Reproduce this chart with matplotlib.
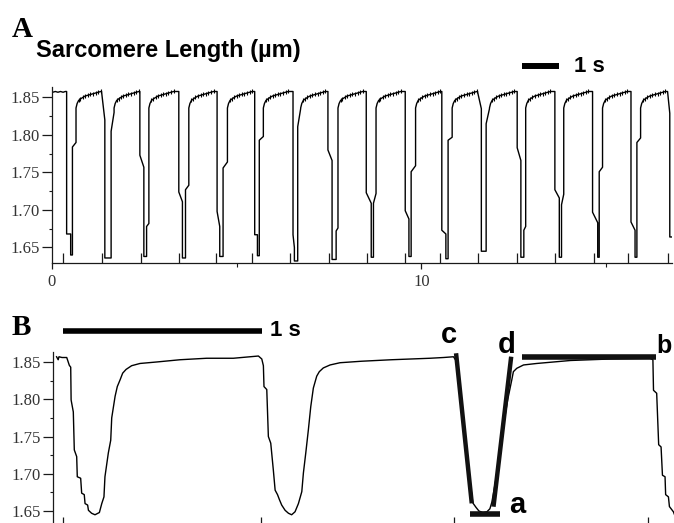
import matplotlib
matplotlib.use("Agg")
import matplotlib.pyplot as plt

# ---------------- panel A: sarcomere length over ~17 s ----------------
# initial plateau before the first twitch
A_START_T = [0.02, 0.09, 0.16, 0.23, 0.30, 0.36, 0.396]
A_START_V = [1.857, 1.858, 1.857, 1.858, 1.857, 1.858, 1.858]

# per twitch: drop time, kink on the falling edge, bottom, rise time, kink on the rising edge
A_DROP_T = [0.396, 1.343, 2.378, 3.432, 4.468, 5.486, 6.523, 7.468, 8.505, 9.56,
            10.55, 11.52, 12.59, 13.61, 14.63, 15.67]
A_FALL_V1 = [1.668, 1.857, 1.773, 1.724, 1.698, 1.667, 1.667, 1.780, 1.723, 1.699,
             1.673, 1.857, 1.783, 1.727, 1.697, 1.684]
A_FALL_T2 = [0.505, 1.430, 2.486, 3.530, 4.540, 5.560, 6.560, 7.580, 8.640, 9.66,
             10.66, 11.62, 12.69, 13.73, 14.77, 15.78]
A_FALL_V2 = [1.668, 1.820, 1.757, 1.711, 1.678, 1.667, 1.650, 1.766, 1.709, 1.688,
             1.668, 1.835, 1.766, 1.716, 1.683, 1.673]
A_BOTTOM = [1.640, 1.636, 1.638, 1.636, 1.638, 1.639, 1.632, 1.634, 1.637, 1.638,
            1.635, 1.645, 1.637, 1.637, 1.637, 1.637]
A_RISE_T = [0.553, 1.600, 2.560, 3.613, 4.630, 5.610, 6.650, 7.690, 8.700, 9.72,
            10.72, 11.75, 12.77, 13.79, 14.81, 15.83]
A_RISE_V1 = [1.784, 1.805, 1.678, 1.727, 1.756, 1.793, 1.811, 1.672, 1.709, 1.751,
             1.793, 1.815, 1.673, 1.707, 1.751, 1.790]
A_RISE_T2 = [0.650, 1.680, 2.622, 3.703, 4.748, 5.720, 6.730, 7.740, 8.770, 9.84,
             10.83, 11.84, 12.82, 13.85, 14.90, 15.93]
A_RISE_V2 = [1.790, 1.830, 1.682, 1.733, 1.764, 1.798, 1.835, 1.676, 1.722, 1.759,
             1.797, 1.835, 1.678, 1.721, 1.757, 1.796]

# slow relaxation plateau after each rise (time after the rising kink, value)
PLAT_DT = [0.00, 0.03, 0.07, 0.12, 0.18, 0.25, 0.32, 0.39, 0.46, 0.53, 0.60, 0.67]
PLAT_V = [1.836, 1.842, 1.846, 1.848, 1.850, 1.852, 1.853, 1.854, 1.855, 1.856, 1.857, 1.858]

# last, partial twitch at the right edge
A_END_T = [16.66, 16.72, 16.72, 16.80]
A_END_V = [1.858, 1.829, 1.664, 1.664]

A_STIM_T = [0.305, 1.36, 2.40, 3.44, 4.45, 5.41, 6.45, 7.49, 8.52, 9.56, 10.51,
            11.54, 12.58, 13.61, 14.66, 15.60, 16.66]

# ---------------- panel B: three twitches, ~3 s ----------------
B_T = [0.018, 0.026, 0.030, 0.045, 0.069, 0.082, 0.089, 0.091, 0.102, 0.107, 0.119,
       0.122, 0.139, 0.144, 0.157, 0.161, 0.174, 0.178, 0.194, 0.211, 0.233, 0.245,
       0.256, 0.261, 0.278, 0.290, 0.295, 0.312, 0.323, 0.337, 0.350, 0.367, 0.395,
       0.437, 0.521, 0.638, 0.772, 0.906, 1.032, 1.049, 1.057, 1.060, 1.074, 1.082,
       1.094, 1.107, 1.116, 1.128, 1.138, 1.149, 1.166, 1.183, 1.199, 1.216, 1.233,
       1.250, 1.258, 1.270, 1.283, 1.295, 1.308, 1.325, 1.338, 1.358, 1.392, 1.442,
       1.55, 1.70, 1.894, 1.962, 2.012, 2.03, 2.05, 2.07, 2.09, 2.104, 2.109, 2.125,
       2.14, 2.16, 2.18, 2.195, 2.205, 2.23, 2.26, 2.285, 2.305, 2.313, 2.33, 2.364,
       2.43, 2.60, 2.80, 3.00, 3.014, 3.017, 3.033, 3.043, 3.055, 3.062, 3.075,
       3.078, 3.092, 3.097, 3.117, 3.13]
B_V = [1.857, 1.853, 1.857, 1.856, 1.856, 1.8455, 1.843, 1.799, 1.783, 1.732, 1.723,
       1.696, 1.694, 1.674, 1.672, 1.660, 1.658, 1.651, 1.647, 1.645, 1.648, 1.660,
       1.669, 1.696, 1.728, 1.745, 1.775, 1.804, 1.817, 1.826, 1.835, 1.840, 1.845,
       1.848, 1.850, 1.853, 1.855, 1.855, 1.858, 1.854, 1.845, 1.817, 1.813, 1.750,
       1.741, 1.705, 1.678, 1.672, 1.665, 1.658, 1.651, 1.647, 1.645, 1.649, 1.660,
       1.676, 1.701, 1.728, 1.759, 1.790, 1.815, 1.831, 1.837, 1.842, 1.846, 1.849,
       1.851, 1.853, 1.855, 1.856, 1.857, 1.850, 1.800, 1.750, 1.700, 1.672, 1.661,
       1.655, 1.650, 1.648, 1.649, 1.653, 1.662, 1.700, 1.760, 1.800, 1.826, 1.837,
       1.8415, 1.846, 1.848, 1.852, 1.854, 1.855, 1.853, 1.812, 1.808, 1.739, 1.736,
       1.698, 1.696, 1.672, 1.669, 1.656, 1.649, 1.640]
B_STIM_T = [0.052, 1.044, 2.015, 2.991]

# measurement markers a-d on the third twitch
C_LINE_T = [2.025, 2.104]
C_LINE_V = [1.8617, 1.6603]
D_LINE_T = [2.302, 2.213]
D_LINE_V = [1.8571, 1.6558]
A_LINE_T = [2.095, 2.246]
A_LINE_V = [1.6456, 1.6456]
B_LINE_T = [2.355, 3.030]
B_LINE_V = [1.8563, 1.8563]

YTICKS = [1.65, 1.70, 1.75, 1.80, 1.85]
YMINOR = [1.675, 1.725, 1.775, 1.825]

INK = "#1a1a1a"
SERIF = "Liberation Serif"
SANS = "Liberation Sans"


def build_trace_a():
    ts, vs = list(A_START_T), list(A_START_V)
    pts, pvs = [], []
    n = len(A_DROP_T)
    for i in range(n):
        top = vs[-1]
        ts += [A_DROP_T[i], A_DROP_T[i], A_FALL_T2[i], A_FALL_T2[i],
               A_RISE_T[i], A_RISE_T[i], A_RISE_T2[i]]
        vs += [top, A_FALL_V1[i], A_FALL_V2[i], A_BOTTOM[i],
               A_BOTTOM[i], A_RISE_V1[i], A_RISE_V2[i]]
        nxt = A_DROP_T[i + 1] if i + 1 < n else A_END_T[0]
        for dt, v in zip(PLAT_DT, PLAT_V):
            if A_RISE_T2[i] + dt < nxt - 0.01:
                ts.append(A_RISE_T2[i] + dt); vs.append(v)
                if dt > 0.05:
                    pts.append(A_RISE_T2[i] + dt); pvs.append(v)
    ts += A_END_T; vs += A_END_V
    return ts, vs, pts, pvs


def style_axis(ax, ymin, ymax):
    for s in ("top", "right"):
        ax.spines[s].set_visible(False)
    for s in ("left", "bottom"):
        ax.spines[s].set_color(INK); ax.spines[s].set_linewidth(0.9)
    ax.set_ylim(ymin, ymax)
    ax.set_yticks(YTICKS)
    ax.set_yticks(YMINOR, minor=True)
    ax.set_yticklabels([f"{v:.2f}" for v in YTICKS], fontfamily=SERIF, fontsize=12, color="#333")
    ax.tick_params(axis="y", which="major", length=7.5, width=0.9, pad=1, color=INK)
    ax.tick_params(axis="y", which="minor", length=2.5, width=0.8, color=INK)
    ax.patch.set_visible(False)


fig = plt.figure(figsize=(6.74, 5.23), dpi=100)

# ---- panel A ----
axA = fig.add_axes([0.07715, 0.49656, 0.91988, 0.33767])
ta, va, pt, pv = build_trace_a()
axA.plot(ta, va, color="black", lw=1.0)
axA.plot(pt, pv, ls="none", marker="|", ms=3, mew=0.8, color="black")
style_axis(axA, 1.6289, 1.8644)
axA.set_xlim(0, 16.78)
axA.set_xticks([0, 10])
axA.set_xticks([5, 15], minor=True)
axA.set_xticklabels(["0", "10"], fontfamily=SERIF, fontsize=12, color="#333")
axA.tick_params(axis="x", which="major", length=4, width=0.9, pad=4, color=INK)
axA.tick_params(axis="x", which="minor", length=3, width=0.8, color=INK)
axA.vlines(A_STIM_T, 1.6289, 1.6289 + 0.0133, color=INK, lw=0.9)
# 1 s scale bar
axA.plot([12.73, 13.73], [1.892, 1.892], color="black", lw=4.3, solid_capstyle="butt", clip_on=False)
axA.text(14.14, 1.892, "1 s", fontfamily=SANS, fontweight="bold", fontsize=16,
         va="center", ha="left")

fig.text(12 / 674, 1 - 37 / 523, "A", fontfamily=SERIF, fontweight="bold", fontsize=21)
fig.text(36 / 674, 1 - 57 / 523, "Sarcomere Length (µm)", fontfamily=SANS,
         fontweight="bold", fontsize=17)

# ---- panel B ----
axB = fig.add_axes([0.07864, -0.00191, 0.92136, 0.32945])
axB.plot(B_T, B_V, color="black", lw=1.0)
style_axis(axB, 1.6326, 1.8638)
axB.set_xlim(0, 3.12)
axB.set_xticks([])
axB.vlines(B_STIM_T, 1.6326, 1.6326 + 0.01, color=INK, lw=0.9)
for lt, lv, w in ((C_LINE_T, C_LINE_V, 3.2), (D_LINE_T, D_LINE_V, 3.2),
                  (A_LINE_T, A_LINE_V, 4.0), (B_LINE_T, B_LINE_V, 4.0)):
    axB.plot(lt, lv, color="#111", lw=w, solid_capstyle="butt", clip_on=False)
lab = dict(fontfamily=SANS, fontweight="bold", fontsize=21, ha="left", va="baseline")
axB.text(1.95, 1.8759, "c", **lab)
axB.text(2.236, 1.8621, "d", **lab)
axB.text(2.291, 1.6473, "a", **lab)
axB.text(3.03, 1.8621, "b", fontfamily=SANS, fontweight="bold", fontsize=18,
         ha="left", va="baseline")
axB.plot([0.049, 1.049], [1.8919, 1.8919], color="black", lw=4.0, solid_capstyle="butt", clip_on=False)
axB.text(1.09, 1.8919, "1 s", fontfamily=SANS, fontweight="bold", fontsize=16,
         va="center", ha="left")
fig.text(12 / 674, 1 - 335 / 523, "B", fontfamily=SERIF, fontweight="bold", fontsize=21)

fig.savefig("out.png", dpi=100)
